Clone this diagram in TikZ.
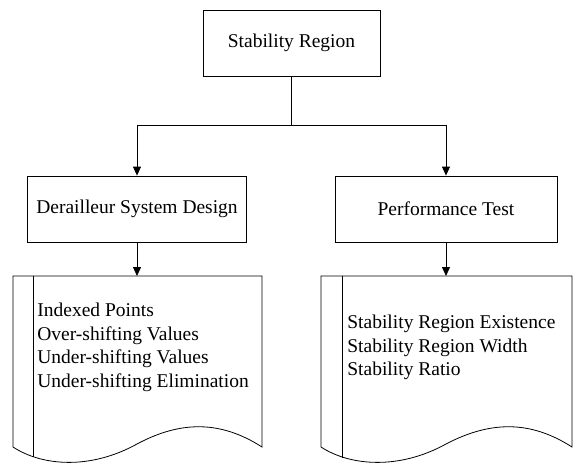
\documentclass[tikz,border=0pt]{standalone}
\usepackage{fontspec}
\setmainfont{Liberation Serif}
\usetikzlibrary{arrows.meta}
\begin{document}
\begin{tikzpicture}[x=1pt, y=-1pt, >={Triangle[width=8pt,length=9pt]}, line width=.8pt,
    box/.style={draw, minimum height=66pt, inner sep=0pt, font=\fontsize{19.5}{23.5}\selectfont},
    doctext/.style={anchor=north west, align=left, inner sep=0pt, font=\fontsize{19.5}{23.5}\selectfont}]
\useasboundingbox (0,0) rectangle (576,466);
\node[box, minimum width=177pt] (region) at (291.5,43) {Stability Region};
\node[box, minimum width=219pt] (design) at (137,209) {Derailleur System Design};
\node[box, minimum width=222pt] (test) at (446,209) {Performance Test};
\coordinate (split) at (291.5,125);
\coordinate (designdoc) at (137,276);
\coordinate (testdoc) at (446,276);
\draw (region) -- (split);
\draw[->] (split) -| (design);
\draw[->] (split) -| (test);
\draw[->] (design) -- (designdoc);
\draw[->] (test) -- (testdoc);
% documents
\draw (13,276) -- (262,276) -- (262,447) .. controls (220,420) and (180,421) .. (137,444)
    .. controls (90,470) and (42,466) .. (13,447) -- cycle;
\draw (33,276) -- (33,457);
\draw (321,276) -- (572,276) -- (572,447) .. controls (530,420) and (490,421) .. (446,444)
    .. controls (399,470) and (350,466) .. (321,447) -- cycle;
\draw (342,276) -- (342,458);
\node[doctext] (designlist) at (37,303) {Indexed Points\\Over-shifting Values\\Under-shifting Values\\Under-shifting Elimination};
\node[doctext] (testlist) at (347,315) {Stability Region Existence\\Stability Region Width\\Stability Ratio};
\end{tikzpicture}
\end{document}
